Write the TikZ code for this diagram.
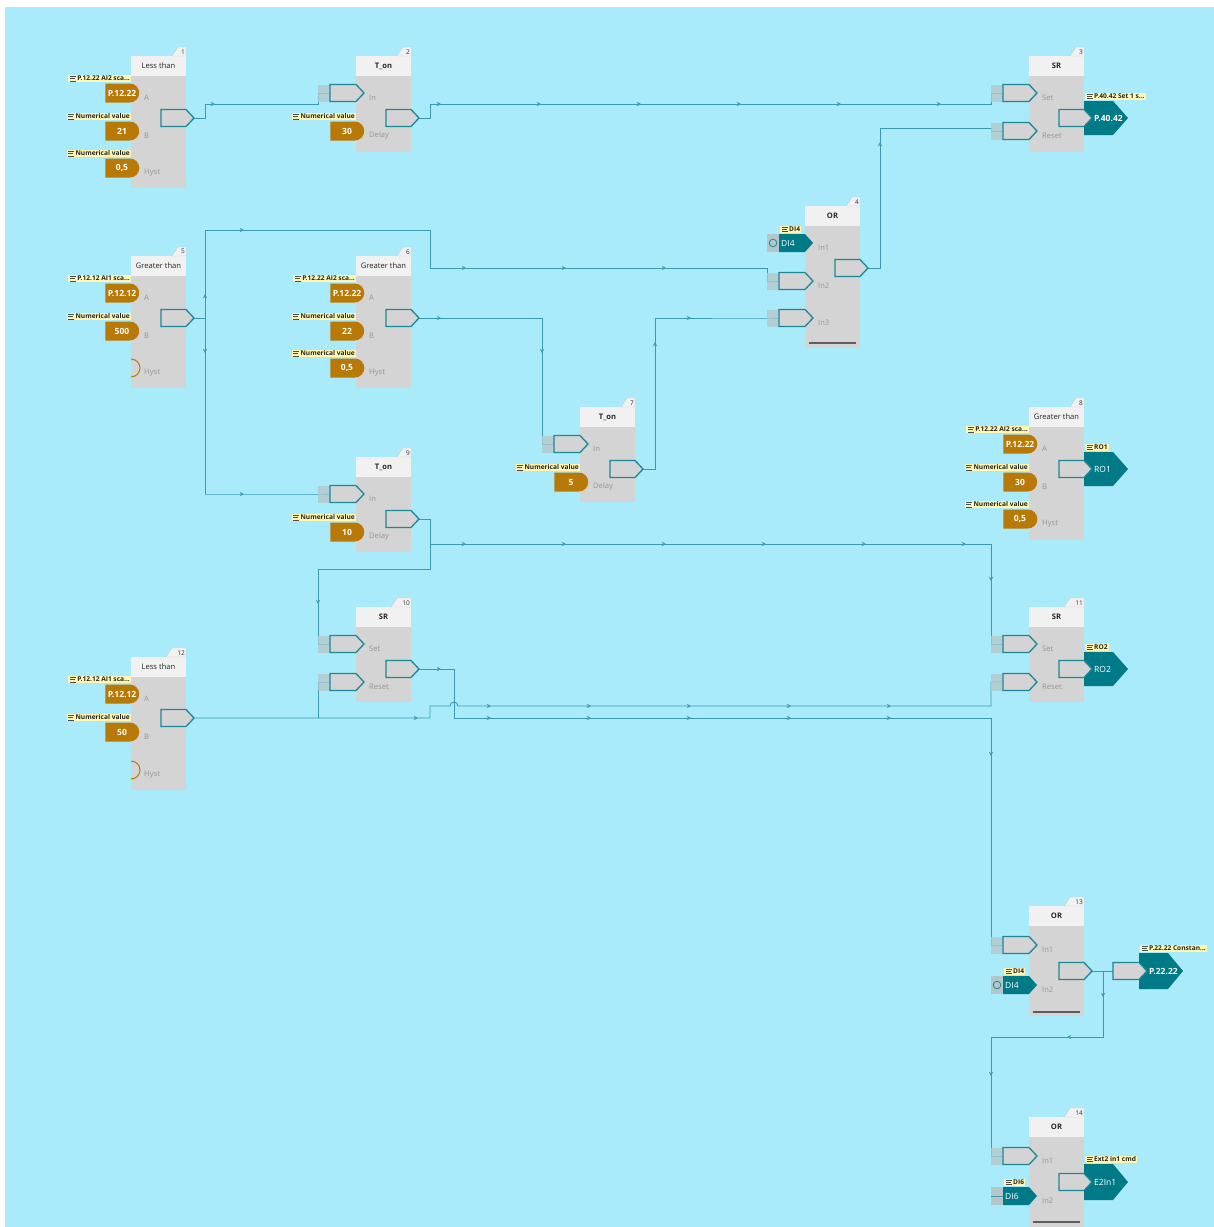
\documentclass[tikz,border=0pt]{standalone}
\usepackage{fontspec}
\setmainfont{Open Sans}
\usetikzlibrary{arrows.meta,shapes.misc}
\pgfdeclarelayer{bg}
\pgfdeclarelayer{wires}
\pgfsetlayers{bg,wires,main}

\definecolor{bgc}{HTML}{A9EAFB}
\definecolor{bodyc}{HTML}{D4D4D4}
\definecolor{headc}{HTML}{F1F1F1}
\definecolor{pinc}{HTML}{1C8796}
\definecolor{wirec}{HTML}{3A9BB0}
\definecolor{tealc}{HTML}{007A87}
\definecolor{orc}{HTML}{B97906}
\definecolor{yelc}{HTML}{FFF6B3}
\definecolor{stubc}{HTML}{B3C7CB}
\definecolor{portc}{HTML}{959595}
\definecolor{barc}{HTML}{5E5E5E}

\tikzset{
  wire/.style={draw=wirec, line width=0.95pt, line join=miter},
  pinshape/.style={fill=bodyc, draw=pinc, line width=1.3pt, line join=miter},
  title/.style={font=\fontsize{7.6}{8}\selectfont, text=black!85, inner sep=0},
  tabnum/.style={font=\fontsize{6.5}{7}\selectfont, text=black!80, anchor=east, inner sep=0},
  port/.style={font=\fontsize{7.6}{8}\selectfont, text=portc, anchor=west, inner sep=0},
  vtag/.style={rounded rectangle, rounded rectangle left arc=none, fill=orc,
    minimum width=34pt, minimum height=19pt, inner sep=0,
    font=\bfseries\fontsize{8.5}{9}\selectfont, text=white},
  ttext/.style={font=\fontsize{8.5}{9}\selectfont, text=white, inner sep=0, anchor=west},
  ylab/.style={fill=yelc, inner xsep=1pt, inner ysep=0.5pt, text height=5pt, text depth=1.3pt,
    font=\bfseries\fontsize{6.6}{7}\selectfont, text=black!85,
    path picture={
      \draw[black!70, line width=.5pt]
        ([xshift=1.8pt,yshift=2.2pt]path picture bounding box.west) -- ++(6pt,0)
        ([xshift=1.8pt]path picture bounding box.west) -- ++(4.5pt,0)
        ([xshift=1.8pt,yshift=-2.2pt]path picture bounding box.west) -- ++(6pt,0);}},
}

% pentagon pin: left x, centre y, width
\newcommand{\PinShape}[3]{%
  \draw[pinshape] (#1,#2-8.5) -- (#1+#3-8,#2-8.5) -- (#1+#3,#2) -- (#1+#3-8,#2+8.5) -- (#1,#2+8.5) -- cycle;}

% function block: name, left, top, bottom, title, number, tab width
\newcommand{\FBlock}[7]{%
  \fill[bodyc] (#2,#3) rectangle (#2+55,#4);
  \fill[headc] (#2,#3) rectangle (#2+55,#3+20);
  \filldraw[fill=headc, draw=black!20, line width=.4pt]
    (#2+55,#3) -- (#2+55,#3-9) -- (#2+55-#7,#3-9) -- (#2+49-#7,#3) -- cycle;
  \node[tabnum] (#1-n) at (#2+54,#3-4.3) {#6};
  \node[title] (#1) at (#2+27.5,#3+10) {#5};}

% wired input: name, block left, y, port label
\newcommand{\WIn}[4]{%
  \coordinate (#1) at (#2-38,#3);
  \coordinate (#1p) at (#2-26,#3);
  \fill[stubc, opacity=.8] (#2-38,#3-8.5) rectangle (#2-26,#3+8.5);
  \PinShape{#2-26}{#3}{34}
  \node[port] (#1-l) at (#2+13,#3+5) {#4};}

% constant input: name, block left, y, value, caption, port label
\newcommand{\VIn}[6]{%
  \node[vtag] (#1) at (#2-9,#3) {#4};
  \node[ylab, anchor=south east] (#1-y) at (#2,#3-10.5) {\hspace*{8pt}#5};
  \node[port] (#1-l) at (#2+13,#3+5) {#6};}

% open hysteresis input: name, block left, y, port label
\newcommand{\HIn}[4]{%
  \coordinate (#1) at (#2,#3);
  \draw[orc, line width=1pt] (#2,#3-9) arc[start angle=90, end angle=-90, radius=9pt];
  \node[port] (#1-l) at (#2+13,#3+5) {#4};}

% digital input tag: name, block left, y, text, port label, stub kind (c or d)
\newcommand{\TIn}[6]{%
  \coordinate (#1) at (#2-38,#3);
  \fill[stubc] (#2-38,#3-9) rectangle (#2-26,#3+9);
  \ifx c#6
    \draw[pinc, line width=.8pt] (#2-32,#3) circle[radius=3.8pt];
  \else
    \draw[wirec!70!gray, line width=1pt] (#2-38,#3) -- (#2-26,#3);
  \fi
  \fill[tealc] (#2-26,#3-9) -- (#2,#3-9) -- (#2+8,#3) -- (#2,#3+9) -- (#2-26,#3+9) -- cycle;
  \node[ttext] (#1-t) at (#2-24,#3) {#4};
  \node[ylab, anchor=south west] (#1-y) at (#2-25,#3-10) {\hspace*{8pt}#4};
  \node[port] (#1-l) at (#2+13,#3+5) {#5};}

% output pin: name, block right, y
\newcommand{\OutPin}[3]{%
  \PinShape{#2-25}{#3}{33}
  \coordinate (#1) at (#2+8,#3);}

% output tag: name, left, y, half height, text, caption
\newcommand{\TOut}[6]{%
  \fill[tealc] (#2,#3-#4) -- (#2+29,#3-#4) -- (#2+44,#3) -- (#2+29,#3+#4) -- (#2,#3+#4) -- cycle;
  \node[ttext] (#1) at (#2+10,#3) {#5};
  \node[ylab, anchor=south west] (#1-y) at (#2+1,#3-#4-1) {\hspace*{8pt}#6};}

% closing bar of an OR block: block left, y
\newcommand{\OrBar}[2]{\draw[barc, line width=1.6pt] (#1+4,#2) -- (#1+51,#2);}

% direction marker on a wire: x, y, direction
\newcommand{\Mk}[3]{\draw[wire,-{Stealth[length=4.2pt,width=4.2pt]}] (#1,#2) -- ++(#3);}

\begin{document}
\begin{tikzpicture}[x=1pt,y=-1pt]
\begin{pgfonlayer}{bg}
  \fill[white] (0,0) rectangle (1214,1227);
  \fill[bgc] (5,7) rectangle (1214,1227);
\end{pgfonlayer}
\useasboundingbox (0,0) rectangle (1214,1227);

% 1 Less than
\FBlock{b1}{131}{56}{188}{Less than}{1}{8}
\VIn{b1a}{131}{93}{P.12.22}{P.12.22 AI2 sca...}{A}
\VIn{b1b}{131}{131}{21}{Numerical value}{B}
\VIn{b1h}{131}{168}{0,5}{Numerical value}{Hyst}
\OutPin{b1o}{186}{118}

% 2 T_on
\FBlock{b2}{356}{56}{152}{\bfseries T\_on}{2}{8}
\WIn{b2i}{356}{93}{In}
\VIn{b2d}{356}{131}{30}{Numerical value}{Delay}
\OutPin{b2o}{411}{118}

% 3 SR
\FBlock{b3}{1029}{56}{152}{\bfseries SR}{3}{8}
\WIn{b3s}{1029}{93}{Set}
\WIn{b3r}{1029}{131}{Reset}
\TOut{b3t}{1084}{118}{17}{\bfseries P.40.42}{P.40.42 Set 1 s...}
\OutPin{b3o}{1084}{118}

% 4 OR
\FBlock{b4}{805}{206}{348}{\bfseries OR}{4}{8}
\TIn{b4a}{805}{243}{DI4}{In1}{c}
\WIn{b4b}{805}{281}{In2}
\WIn{b4c}{805}{318}{In3}
\OutPin{b4o}{860}{268}
\OrBar{805}{343}

% 5 Greater than
\FBlock{b5}{131}{256}{388}{Greater than}{5}{8}
\VIn{b5a}{131}{293}{P.12.12}{P.12.12 AI1 sca...}{A}
\VIn{b5b}{131}{331}{500}{Numerical value}{B}
\HIn{b5h}{131}{368}{Hyst}
\OutPin{b5o}{186}{318}

% 6 Greater than
\FBlock{b6}{356}{256}{388}{Greater than}{6}{8}
\VIn{b6a}{356}{293}{P.12.22}{P.12.22 AI2 sca...}{A}
\VIn{b6b}{356}{331}{22}{Numerical value}{B}
\VIn{b6h}{356}{368}{0,5}{Numerical value}{Hyst}
\OutPin{b6o}{411}{318}

% 7 T_on
\FBlock{b7}{580}{407}{502}{\bfseries T\_on}{7}{8}
\WIn{b7i}{580}{444}{In}
\VIn{b7d}{580}{482}{5}{Numerical value}{Delay}
\OutPin{b7o}{635}{469}

% 8 Greater than
\FBlock{b8}{1029}{407}{540}{Greater than}{8}{8}
\VIn{b8a}{1029}{444}{P.12.22}{P.12.22 AI2 sca...}{A}
\VIn{b8b}{1029}{482}{30}{Numerical value}{B}
\VIn{b8h}{1029}{519}{0,5}{Numerical value}{Hyst}
\TOut{b8t}{1084}{469}{17}{RO1}{RO1}
\OutPin{b8o}{1084}{469}

% 9 T_on
\FBlock{b9}{356}{457}{552}{\bfseries T\_on}{9}{8}
\WIn{b9i}{356}{494}{In}
\VIn{b9d}{356}{532}{10}{Numerical value}{Delay}
\OutPin{b9o}{411}{519}

% 10 SR
\FBlock{b10}{356}{607}{702}{\bfseries SR}{10}{14}
\WIn{b10s}{356}{644}{Set}
\WIn{b10r}{356}{682}{Reset}
\OutPin{b10o}{411}{669}

% 11 SR
\FBlock{b11}{1029}{607}{702}{\bfseries SR}{11}{14}
\WIn{b11s}{1029}{644}{Set}
\WIn{b11r}{1029}{682}{Reset}
\TOut{b11t}{1084}{669}{17}{RO2}{RO2}
\OutPin{b11o}{1084}{669}

% 12 Less than
\FBlock{b12}{131}{657}{790}{Less than}{12}{14}
\VIn{b12a}{131}{694}{P.12.12}{P.12.12 AI1 sca...}{A}
\VIn{b12b}{131}{732}{50}{Numerical value}{B}
\HIn{b12h}{131}{770}{Hyst}
\OutPin{b12o}{186}{718}

% 13 OR with parameter output
\FBlock{b13}{1029}{906}{1016}{\bfseries OR}{13}{14}
\WIn{b13a}{1029}{945}{In1}
\TIn{b13b}{1029}{985}{DI4}{In2}{c}
\OutPin{b13o}{1084}{971}
\OrBar{1029}{1012}
\TOut{b13t}{1139}{971}{18}{\bfseries P.22.22}{P.22.22 Constan...}
\PinShape{1113}{971}{34}
\coordinate (b13x) at (1113,971);

% 14 OR
\FBlock{b14}{1029}{1117}{1240}{\bfseries OR}{14}{14}
\WIn{b14a}{1029}{1156}{In1}
\TIn{b14b}{1029}{1196}{DI6}{In2}{d}
\TOut{b14t}{1084}{1182}{18}{E2In1}{Ext2 in1 cmd}
\OutPin{b14o}{1084}{1182}
\OrBar{1029}{1222}

\begin{pgfonlayer}{wires}
  % block 1 -> block 2
  \draw[wire] (b1o) -- (205,118) |- (318,104) -- (b2i) -- (b2ip);
  \Mk{214}{104}{1,0}
  % block 2 -> block 3 set
  \draw[wire] (b2o) -- (430,118) |- (991,104) -- (b3s) -- (b3sp);
  \foreach \x in {440,540,640,740,840,940} {\Mk{\x}{104}{1,0}}
  % block 4 -> block 3 reset
  \draw[wire] (b4o) -- (880,268) |- (991,128) -- (b3r) -- (b3rp);
  \Mk{880}{143}{0,-1}
  % block 5 fan-out
  \draw[wire] (b5o) -- (205,318);
  \draw[wire] (205,494) -- (205,230) -- (430,230) |- (767,268) -- (b4b) -- (b4bp);
  \draw[wire] (205,494) -- (b9i) -- (b9ip);
  \Mk{205}{295}{0,-1}
  \Mk{205}{352}{0,1}
  \Mk{243}{230}{1,0}
  \foreach \x in {465,565,665} {\Mk{\x}{268}{1,0}}
  \Mk{243}{494}{1,0}
  % block 6 -> block 7
  \draw[wire] (b6o) -| (b7i) -- (b7ip);
  \Mk{440}{318}{1,0}
  \Mk{542}{352}{0,1}
  % block 7 -> block 4 in3
  \draw[wire] (b7o) -- (655,469) |- (b4c) -- (b4cp);
  \Mk{655}{343}{0,-1}
  \Mk{690}{318}{1,0}
  % block 9 -> set inputs of 10 and 11
  \draw[wire] (b9o) -- (430,519) -- (430,569) -| (b10s) -- (b10sp);
  \draw[wire] (430,544) -| (b11s) -- (b11sp);
  \Mk{318}{603}{0,1}
  \foreach \x in {465,565,665,765,865,965} {\Mk{\x}{544}{1,0}}
  \Mk{991}{580}{0,1}
  % block 12 -> reset inputs of 10 and 11
  \draw[wire] (b12o) -- (430,718) -- (430,706) -- (450,706)
    arc[start angle=180, end angle=0, radius=4pt] -| (b11r) -- (b11rp);
  \draw[wire] (318,718) -- (b10r) -- (b10rp);
  \Mk{417}{718}{1,0}
  \foreach \x in {490,590,690,790,890} {\Mk{\x}{706}{1,0}}
  % block 10 -> block 13 in1
  \draw[wire] (b10o) -- (454,669) -- (454,718) -| (b13a) -- (b13ap);
  \Mk{440}{669}{1,0}
  \foreach \x in {490,590,690,790,890} {\Mk{\x}{718}{1,0}}
  \Mk{991}{755}{0,1}
  % block 13 -> parameter and block 14
  \draw[wire] (b13o) -- (b13x);
  \draw[wire] (1103,971) -- (1103,1037) -| (b14a) -- (b14ap);
  \Mk{1103}{996}{0,1}
  \Mk{1068}{1037}{-1,0}
  \Mk{991}{1075}{0,1}
\end{pgfonlayer}
\end{tikzpicture}
\end{document}
